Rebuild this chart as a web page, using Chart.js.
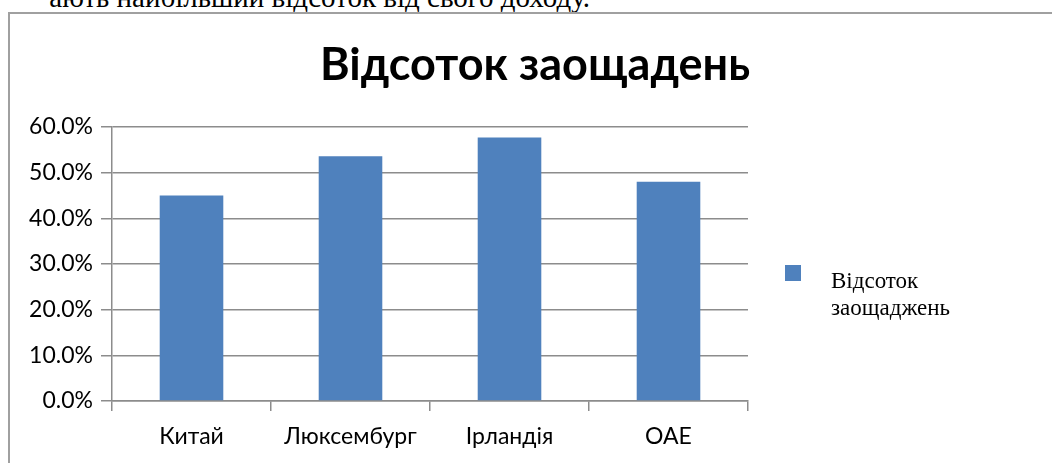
<!DOCTYPE html>
<html>
<head>
<meta charset="utf-8">
<script src="https://cdn.jsdelivr.net/npm/chart.js@4.4.1/dist/chart.umd.min.js"></script>
<style>
  html, body { margin: 0; padding: 0; background: #fff; width: 1052px; height: 463px; overflow: hidden; }
  #topText { position: absolute; right: 462px; top: -17px; white-space: nowrap;
    font-family: "Liberation Serif", serif; font-size: 29px; color: #000; line-height: 28px; }
  #frame { position: absolute; left: 8px; top: 12px; width: 1100px; height: 500px;
    border: 2px solid #a0a0a0; box-sizing: border-box; }
  #c { position: absolute; left: 0; top: 0; }
</style>
</head>
<body>
<div id="topText">ають найбільший відсоток від свого доходу.</div>
<div id="frame"></div>
<canvas id="c" width="1052" height="463"></canvas>
<script>
const chartTitle = 'Відсоток заощадень';
const categories = ['Китай', 'Люксембург', 'Ірландія', 'ОАЕ'];
const seriesName = 'Відсоток заощадень';
const legendLines = ['Відсоток', 'заощаджень'];
const savingsPercent = [45.0, 53.6, 57.7, 48.0];
const yTicks = [0, 10, 20, 30, 40, 50, 60];
const barColor = '#4F81BD';
const gridColor = '#8c8c8c';

const customDecor = {
  id: 'customDecor',
  afterDraw(chart) {
    const ctx = chart.ctx;
    ctx.save();
    // title
    ctx.fillStyle = '#000';
    ctx.font = 'bold 45px Lato';
    ctx.textAlign = 'center';
    ctx.textBaseline = 'alphabetic';
    ctx.fillText(chartTitle, 535, 80);
    // legend
    ctx.fillStyle = chart.data.datasets[0].backgroundColor;
    ctx.fillRect(785, 265, 16, 16);
    ctx.fillStyle = '#000';
    ctx.font = '23px "Liberation Serif"';
    ctx.textAlign = 'left';
    ctx.fillText(legendLines[0], 831, 288);
    ctx.fillText(legendLines[1], 831, 315);
    ctx.restore();
  }
};

new Chart(document.getElementById('c'), {
  type: 'bar',
  data: {
    labels: categories,
    datasets: [{
      label: seriesName,
      data: savingsPercent,
      backgroundColor: barColor,
      borderWidth: 0,
      barPercentage: 0.4,
      categoryPercentage: 1.0
    }]
  },
  options: {
    responsive: false,
    devicePixelRatio: 1,
    animation: false,
    layout: { padding: { top: 127, right: 304, bottom: 0, left: 0 } },
    plugins: {
      legend: { display: false },
      title: { display: false },
      tooltip: { enabled: false }
    },
    scales: {
      x: {
        grid: { display: true, drawOnChartArea: false, drawTicks: true, tickLength: 10,
                color: gridColor, lineWidth: 1.5, offset: true },
        border: { display: true, color: gridColor, width: 1.5 },
        ticks: { color: '#000', font: { family: 'Lato', size: 23 }, padding: 12,
                 maxRotation: 0, autoSkip: false },
        afterFit(scale) { scale.height = 62; }
      },
      y: {
        min: 0, max: 60,
        afterBuildTicks(scale) { scale.ticks = yTicks.map(v => ({ value: v })); },
        grid: { color: gridColor, lineWidth: 1.5, tickLength: 11, drawTicks: true },
        border: { display: true, color: gridColor, width: 1.5 },
        ticks: { color: '#000', font: { family: 'Lato', size: 23 }, padding: 8,
                 callback: v => v.toFixed(1) + '%' },
        afterFit(scale) { scale.width = 112; }
      }
    }
  },
  plugins: [customDecor]
});
</script>
</body>
</html>
